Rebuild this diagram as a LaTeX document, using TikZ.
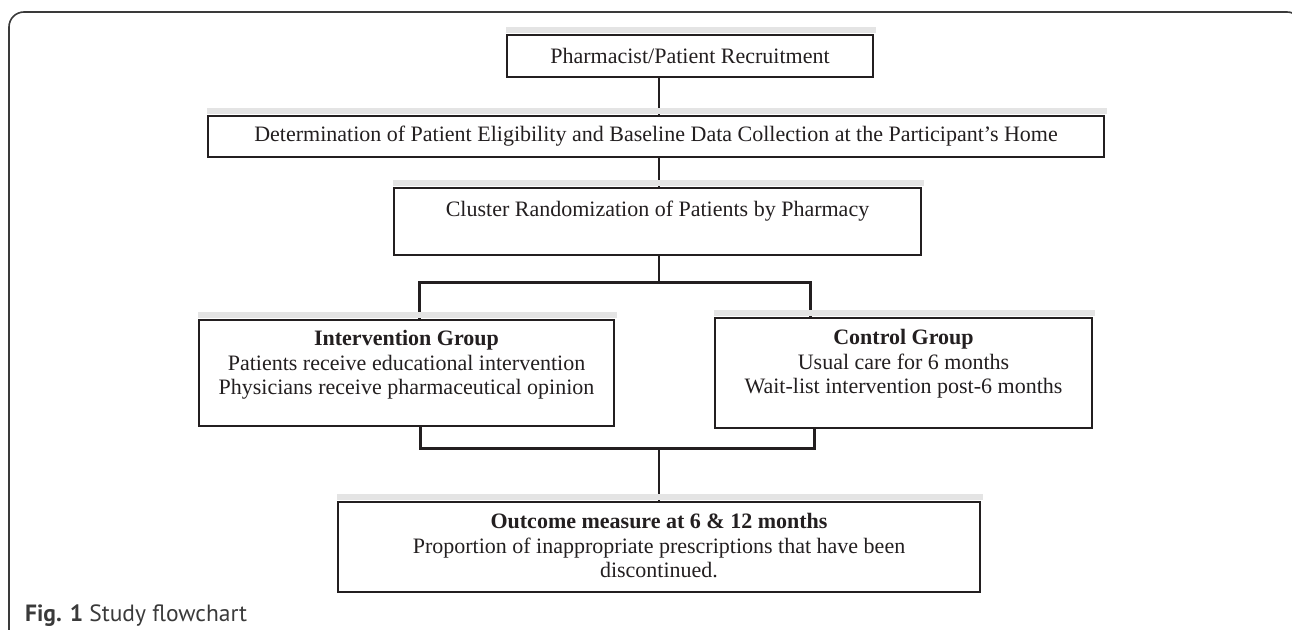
\documentclass[tikz,border=0pt]{standalone}
\usepackage{fontspec}
\setmainfont{Liberation Serif}
\newfontfamily\capfont{PT Sans}
\usetikzlibrary{calc}
\definecolor{ink}{HTML}{231F20}
\definecolor{framec}{HTML}{3A3A3A}
\definecolor{shade}{HTML}{E4E4E4}
\tikzset{
  boxst/.style={draw=ink, line width=2pt, fill=white, inner sep=0pt},
  txt/.style={align=center, inner sep=0pt, text=ink, font=\fontsize{22}{24.5}\selectfont},
  conn/.style={draw=ink, line width=2pt},
  branch/.style={draw=ink, line width=3pt, line join=miter},
  shadowst/.style={fill=shade, draw=none}
}
\begin{document}
\begin{tikzpicture}[x=1pt,y=-1pt]
\useasboundingbox (0,0) rectangle (1292,629);
% outer frame
\draw[framec, line width=1.6pt, rounded corners=15pt] (9,660) -- (9,12) -- (1302,12) -- (1302,660);
% spine coordinates
\coordinate (spine) at (658.5,0);
\coordinate (bL) at (419,282);
\coordinate (bM) at (658.5,282);
\coordinate (bR) at (810,282);
\coordinate (mL) at (420,448);
\coordinate (mM) at (659,448);
\coordinate (mR) at (814,448);
% boxes (geometry)
\node[boxst, minimum width=366pt, minimum height=42pt] (rec) at (690,56) {};
\node[boxst, minimum width=896pt, minimum height=41pt] (elig) at (656,136.5) {};
\node[boxst, minimum width=527pt, minimum height=67pt] (clu) at (657.5,221.5) {};
\node[boxst, minimum width=415pt, minimum height=106pt] (int) at (406.5,373) {};
\node[boxst, minimum width=377pt, minimum height=110pt] (ctl) at (903.5,373) {};
\node[boxst, minimum width=642pt, minimum height=90pt] (out) at (659,547) {};
% connectors
\draw[conn] (rec.south -| spine) -- (elig.north -| spine);
\draw[conn] (elig.south -| spine) -- (clu.north -| spine);
\draw[conn] (clu.south -| spine) -- (bM);
\draw[branch] (int.north -| bL) -- (bL) -- (bR) -- (ctl.north -| bR);
\draw[branch] (int.south -| mL) -- (mL) -- (mR) -- (ctl.south -| mR);
\draw[conn] (mM) -- (out.north -| mM);
% shadows above the boxes
\foreach \n in {rec,elig,clu,int,ctl,out}{
  \fill[shadowst] ($(\n.north west)+(0,-7)$) rectangle ($(\n.north east)+(2,-1)$);
}
% redraw boxes on top
\node[boxst, minimum width=366pt, minimum height=42pt] at (rec) {};
\node[boxst, minimum width=896pt, minimum height=41pt] at (elig) {};
\node[boxst, minimum width=527pt, minimum height=67pt] at (clu) {};
\node[boxst, minimum width=415pt, minimum height=106pt] at (int) {};
\node[boxst, minimum width=377pt, minimum height=110pt] at (ctl) {};
\node[boxst, minimum width=642pt, minimum height=90pt] at (out) {};
% texts
\node[txt] (t1) at (rec) {Pharmacist/Patient Recruitment};
\node[txt] (t2) at (elig) {Determination of Patient Eligibility and Baseline Data Collection at the Participant’s Home};
\node[txt] (t3) at (clu.center |- 0,211) {Cluster Randomization of Patients by Pharmacy};
\node[txt] (t4) at (int.center |- 0,365) {\textbf{Intervention Group}\\Patients receive educational intervention\\Physicians receive pharmaceutical opinion};
\node[txt] (t5) at (ctl.center |- 0,364) {\textbf{Control Group}\\Usual care for 6 months\\Wait-list intervention post-6 months};
\node[txt] (t6) at (out.center |- 0,546) {\textbf{Outcome measure at 6 \& 12 months}\\Proportion of inappropriate prescriptions that have been\\discontinued.};
% caption
\node[anchor=west, inner sep=0pt, text=framec, font=\capfont\fontsize{23.5}{26}\selectfont] (cap) at (25,616) {\textbf{Fig. 1} Study flowchart};
\end{tikzpicture}
\end{document}
